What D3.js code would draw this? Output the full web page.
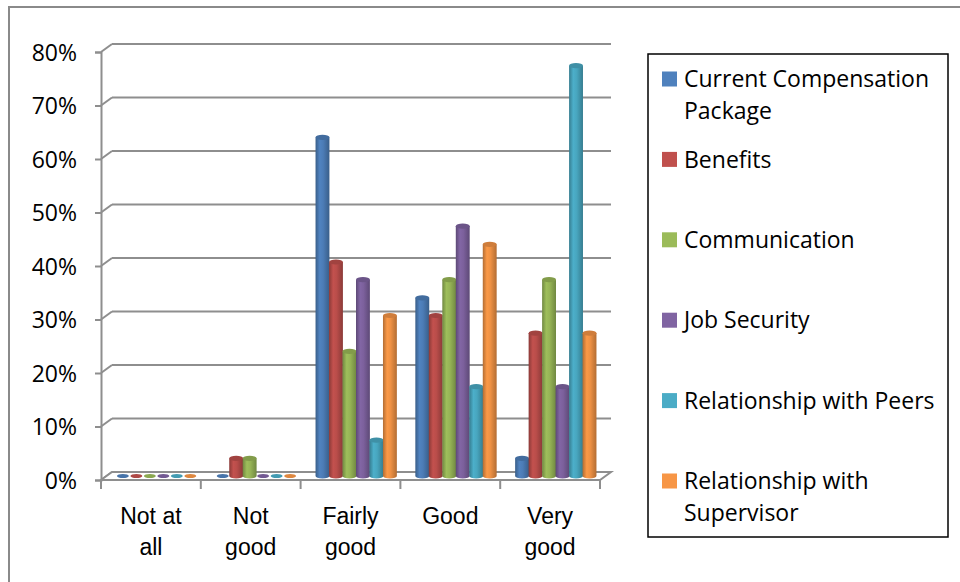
<!DOCTYPE html>
<html>
<head>
<meta charset="utf-8">
<script src="https://cdn.jsdelivr.net/npm/d3@7/dist/d3.min.js"></script>
<style>
  html, body { margin: 0; padding: 0; background: #fff; }
  svg { display: block; font-family: "Open Sans", "Noto Sans", sans-serif; }
</style>
</head>
<body>
<svg id="chart" width="960" height="582"></svg>
<script>
// Ratings (x categories), split over two lines where wrapped
const categories = ["Not at all", "Not good", "Fairly good", "Good", "Very good"];
const categoryLines = [["Not at", "all"], ["Not", "good"], ["Fairly", "good"], ["Good"], ["Very", "good"]];

// Satisfaction factors (series)
const series = [
  "Current Compensation Package",
  "Benefits",
  "Communication",
  "Job Security",
  "Relationship with Peers",
  "Relationship with Supervisor"
];
const seriesLines = [
  ["Current Compensation", "Package"],
  ["Benefits"],
  ["Communication"],
  ["Job Security"],
  ["Relationship with Peers"],
  ["Relationship with", "Supervisor"]
];
const colors = ["#4F81BD", "#C0504D", "#9BBB59", "#8064A2", "#4BACC6", "#F79646"];

// Share of respondents per rating, one array per factor (order follows categories)
const compensation = [0, 0, 0.633, 0.333, 0.033];
const benefits     = [0, 0.033, 0.400, 0.300, 0.267];
const communication = [0, 0.033, 0.233, 0.367, 0.367];
const jobSecurity  = [0, 0, 0.367, 0.467, 0.167];
const peers        = [0, 0, 0.067, 0.167, 0.767];
const supervisor   = [0, 0, 0.300, 0.433, 0.267];
const values = [compensation, benefits, communication, jobSecurity, peers, supervisor];

const yTicks = [0, 0.1, 0.2, 0.3, 0.4, 0.5, 0.6, 0.7, 0.8];

const FONT = 23;
const svg = d3.select("#chart");

// Outer chart frame
svg.append("rect")
  .attr("x", 9).attr("y", 7).attr("width", 980).attr("height", 600)
  .attr("fill", "none").attr("stroke", "#8a8a8a").attr("stroke-width", 2);

// 3-D depth offset of the back wall
const DX = 11, DY = -8;

const x = d3.scaleBand().domain(categories).range([101, 600]);
const y = d3.scaleLinear().domain([0, 0.8]).range([480, 52]);
const xs = d3.scaleBand().domain(series).range([0, x.bandwidth()]).paddingOuter(0.7);

const grid = "#8e8e8e";
const g = svg.append("g");

// Back-wall gridlines plus their side-wall diagonals
yTicks.forEach(v => {
  const yf = y(v);
  g.append("line").attr("x1", 101 + DX).attr("x2", 600 + DX)
    .attr("y1", yf + DY).attr("y2", yf + DY)
    .attr("stroke", grid).attr("stroke-width", 2);
  g.append("line").attr("x1", 101).attr("x2", 101 + DX)
    .attr("y1", yf).attr("y2", yf + DY)
    .attr("stroke", grid).attr("stroke-width", 2);
});

// Floor outline
g.append("path")
  .attr("d", `M101,${y(0)}L600,${y(0)}L${600 + DX},${y(0) + DY}L${101 + DX},${y(0) + DY}Z`)
  .attr("fill", "#fff").attr("stroke", grid).attr("stroke-width", 2);

// Value axis
const yAxis = d3.axisLeft(y).tickValues(yTicks).tickFormat(d3.format(".0%")).tickSize(6).tickPadding(18);
const ya = svg.append("g").attr("transform", "translate(101,0)").call(yAxis);
ya.select(".domain").attr("stroke", grid).attr("stroke-width", 2);
ya.selectAll(".tick line").attr("stroke", grid).attr("stroke-width", 2);
ya.selectAll(".tick text").attr("font-size", FONT).attr("fill", "#000")
  .attr("font-family", "Open Sans, sans-serif").attr("dy", "0.36em");

// Category axis
const xAxis = d3.axisBottom(x).tickValues([]).tickSize(0);
const xa = svg.append("g").attr("transform", `translate(0,${y(0)})`).call(xAxis);
xa.select(".domain").remove();
const edges = categories.map(c => x(c)).concat([x(categories[categories.length - 1]) + x.bandwidth()]);
xa.selectAll("line.edge").data(edges).join("line").attr("class", "edge")
  .attr("x1", d => d).attr("x2", d => d).attr("y1", 0).attr("y2", 9)
  .attr("stroke", grid).attr("stroke-width", 2);
xa.selectAll("text.cat").data(categories).join("text").attr("class", "cat")
  .attr("text-anchor", "middle").attr("font-size", FONT).attr("fill", "#000")
  .attr("x", d => x(d) + x.bandwidth() / 2)
  .each(function(d, i) {
    d3.select(this).selectAll("tspan").data(categoryLines[i]).join("tspan")
      .attr("x", x(d) + x.bandwidth() / 2)
      .attr("y", (t, j) => 44 + j * 31)
      .text(t => t);
  });

// Cylinder shading gradients
const defs = svg.append("defs");
colors.forEach((c, i) => {
  const base = d3.rgb(c);
  const grad = defs.append("linearGradient").attr("id", "cyl" + i)
    .attr("x1", "0%").attr("x2", "100%").attr("y1", "0%").attr("y2", "0%");
  grad.append("stop").attr("offset", "0%").attr("stop-color", base.darker(0.9));
  grad.append("stop").attr("offset", "30%").attr("stop-color", base.brighter(0.05));
  grad.append("stop").attr("offset", "55%").attr("stop-color", base.darker(0.1));
  grad.append("stop").attr("offset", "100%").attr("stop-color", base.darker(0.9));
});

// Bars sit at mid-depth of the floor
const MX = DX / 2, MY = DY / 2;
const bars = svg.append("g");
categories.forEach((cat, ci) => {
  series.forEach((s, si) => {
    const v = values[si][ci];
    const bx = x(cat) + xs(s) + MX;
    const w = xs.bandwidth() + 0.4;
    const rx = w / 2, ry = 2.6;
    const yb = y(0) + MY;
    const yt = y(v) + MY;
    const cx = bx + rx;
    if (v > 0) {
      bars.append("path")
        .attr("d", `M${bx},${yt}L${bx},${yb}A${rx},${ry} 0 0 0 ${bx + w},${yb}L${bx + w},${yt}Z`)
        .attr("fill", `url(#cyl${si})`);
      bars.append("ellipse").attr("cx", cx).attr("cy", yt).attr("rx", rx).attr("ry", ry)
        .attr("fill", d3.rgb(colors[si]).darker(0.5));
    } else {
      bars.append("ellipse").attr("cx", cx).attr("cy", yb).attr("rx", rx - 1).attr("ry", 2)
        .attr("fill", d3.rgb(colors[si]).darker(0.3));
    }
  });
});

// Legend
const lg = svg.append("g");
lg.append("rect").attr("x", 648).attr("y", 54).attr("width", 300).attr("height", 483)
  .attr("fill", "#fff").attr("stroke", "#000").attr("stroke-width", 1.5);
const itemY = d3.scalePoint().domain(series).range([79, 481]);
series.forEach((s, i) => {
  const cy = itemY(s);
  lg.append("rect").attr("x", 662).attr("y", cy - 7.5).attr("width", 15).attr("height", 15)
    .attr("fill", colors[i]);
  const t = lg.append("text").attr("font-size", FONT).attr("fill", "#000");
  seriesLines[i].forEach((line, j) => {
    t.append("tspan").attr("x", 684).attr("y", cy + j * 32).attr("dy", "0.36em").text(line);
  });
});
</script>
</body>
</html>
